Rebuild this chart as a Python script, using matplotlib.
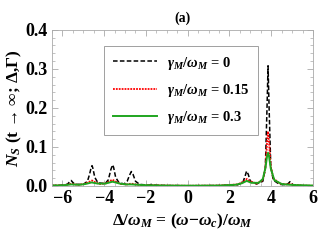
import matplotlib
matplotlib.use("Agg")
import matplotlib.pyplot as plt
from matplotlib.ticker import MultipleLocator, FormatStrFormatter

plt.rcParams['font.family'] = ['Liberation Serif', 'DejaVu Serif']
plt.rcParams['font.weight'] = 'bold'
plt.rcParams['mathtext.fontset'] = 'custom'
plt.rcParams['mathtext.rm'] = 'Liberation Serif:bold'
plt.rcParams['mathtext.it'] = 'Liberation Serif:italic:bold'
plt.rcParams['mathtext.bf'] = 'Liberation Serif:bold'

# gamma_M/omega_M = 0
x_g0 = [-6.5, -5.9, -5.75, -5.65, -5.58, -5.5, -5.4, -5.0, -4.8, -4.7, -4.62, -4.58, -4.54, -4.45,
        -4.3, -3.95, -3.8, -3.68, -3.6, -3.55, -3.45, -3.3, -3.05, -2.9, -2.78, -2.7, -2.62, -2.5,
        -2.3, -1.85, -1.75, -1.65, -1.0, 0.0, 1.5, 2.4, 2.65, 2.75, 2.82, 2.9, 3.0, 3.3, 3.6, 3.72,
        3.8, 3.85, 3.9, 3.98, 4.1, 4.4, 4.75, 4.85, 4.9, 4.95, 5.05, 5.4, 6.0]
y_g0 = [0.001, 0.002, 0.005, 0.011, 0.014, 0.009, 0.004, 0.004, 0.012, 0.030, 0.048, 0.052, 0.045, 0.022,
        0.008, 0.006, 0.016, 0.042, 0.054, 0.048, 0.022, 0.009, 0.005, 0.012, 0.028, 0.037, 0.030, 0.012,
        0.004, 0.002, 0.004, 0.002, 0.001, 0.0005, 0.001, 0.003, 0.010, 0.025, 0.038, 0.030, 0.012, 0.005, 0.012, 0.045,
        0.20, 0.308, 0.20, 0.05, 0.015, 0.004, 0.003, 0.008, 0.011, 0.008, 0.003, 0.001, 0.0005]

# gamma_M/omega_M = 0.15
x_g15 = [-6.5, -5.9, -5.7, -5.58, -5.45, -5.2, -4.9, -4.7, -4.58, -4.45, -4.2, -3.9, -3.72, -3.6,
         -3.48, -3.2, -2.9, -2.7, -2.5, -2.2, -1.75, -1.0, 0.0, 1.5, 2.4, 2.7, 2.83, 2.95, 3.3, 3.6,
         3.72, 3.8, 3.85, 3.9, 3.98, 4.1, 4.4, 4.75, 4.9, 5.05, 5.5, 6.0]
y_g15 = [0.001, 0.002, 0.004, 0.006, 0.004, 0.003, 0.006, 0.011, 0.014, 0.010, 0.005, 0.007, 0.013, 0.016,
         0.012, 0.005, 0.004, 0.006, 0.004, 0.002, 0.002, 0.001, 0.0005, 0.001, 0.004, 0.012, 0.018, 0.013, 0.006, 0.015,
         0.045, 0.11, 0.14, 0.11, 0.05, 0.02, 0.006, 0.004, 0.005, 0.003, 0.001, 0.0005]

# gamma_M/omega_M = 0.3
x_g3 = [-6.5, -5.9, -5.58, -5.2, -4.9, -4.6, -4.3, -3.95, -3.6, -3.25, -2.95, -2.7, -2.4, -2.0,
        -1.0, 0.0, 1.5, 2.3, 2.6, 2.83, 3.05, 3.4, 3.6, 3.72, 3.8, 3.85, 3.9, 3.98, 4.15, 4.5,
        4.9, 5.3, 6.0]
y_g3 = [0.001, 0.002, 0.004, 0.003, 0.005, 0.009, 0.006, 0.006, 0.011, 0.006, 0.004, 0.004, 0.003, 0.002,
        0.001, 0.0007, 0.001, 0.003, 0.007, 0.013, 0.008, 0.008, 0.018, 0.045, 0.075, 0.085, 0.075, 0.045, 0.015, 0.005,
        0.003, 0.002, 0.001]

labels = [r'$\gamma_M/\omega_M$ = 0', r'$\gamma_M/\omega_M$ = 0.15', r'$\gamma_M/\omega_M$ = 0.3']

fig = plt.figure(figsize=(3.27, 2.45), dpi=100)
ax = fig.add_axes([0.159, 0.241, 0.798, 0.637])

ax.plot(x_g0, y_g0, color='black', linestyle=(0, (3, 1.5)), linewidth=1.1, label=labels[0])
ax.plot(x_g15, y_g15, color='red', linestyle=(0, (1, 0.6)), linewidth=1.3, label=labels[1])
ax.plot(x_g3, y_g3, color='#1fa51f', linestyle='-', linewidth=1.4, label=labels[2])

ax.set_xlim(-6.5, 6)
ax.set_ylim(0, 0.4)
ax.set_xticks([-6, -4, -2, 0, 2, 4, 6])
ax.xaxis.set_minor_locator(MultipleLocator(0.5))
ax.yaxis.set_major_locator(MultipleLocator(0.1))
ax.yaxis.set_minor_locator(MultipleLocator(0.02))
ax.yaxis.set_major_formatter(FormatStrFormatter('%.1f'))
ax.tick_params(which='both', direction='in', top=True, right=True, color='#aaaaaa', labelsize=13, pad=3)
ax.tick_params(which='major', length=4, width=0.6)
ax.tick_params(which='minor', length=2, width=0.5)
for s in ax.spines.values():
    s.set_color('#aaaaaa')
    s.set_linewidth(0.6)
for t in ax.get_xticklabels() + ax.get_yticklabels():
    t.set_fontweight('bold')

ax.set_xlabel('$\\Delta/\\omega_M$ = ($\\omega$\u2212$\\omega_c$)/$\\omega_M$',
              fontsize=12.5, fontweight='bold', labelpad=3)
ax.set_ylabel('$N_S$ (t \u2192 \u221e; \u0394,\u0393)', fontsize=12.5, fontweight='bold', labelpad=1)
ax.set_title('(a)', fontsize=10, fontweight='bold', pad=6)

leg = ax.legend(loc='upper left', bbox_to_anchor=(0.172, 0.945), fontsize=10.5, frameon=True,
                fancybox=False, edgecolor='#888888', handlelength=3.0, borderpad=0.6,
                labelspacing=0.7, handletextpad=0.7)
leg.get_frame().set_linewidth(0.7)

fig.savefig('out.png', dpi=100)
